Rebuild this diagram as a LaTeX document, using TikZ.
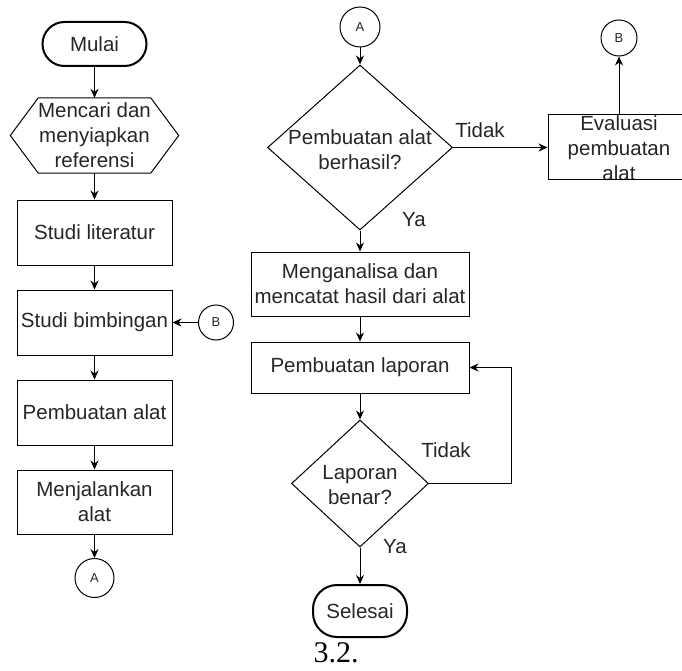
\documentclass[tikz,border=0pt]{standalone}
\usepackage{fontspec}
\setmainfont{Liberation Sans}
\newfontfamily\captionfont{Liberation Serif}
\usetikzlibrary{arrows.meta, calc, positioning, shapes.geometric}

\begin{document}
\begin{tikzpicture}[x=1pt, y=-1pt, >={Stealth[length=9pt, width=8pt]},
    every node/.style={font=\fontsize{20.5}{25}\selectfont, text=black!85},
    flow/.style={->, line width=1pt},
    process/.style={draw, line width=1pt, minimum width=155pt, minimum height=65pt, align=center, inner sep=1pt},
    terminal/.style={draw, line width=2pt, rounded corners=22pt, minimum height=44pt, inner sep=1pt},
    decision/.style={draw, diamond, line width=1pt, inner sep=0pt},
    connector/.style={draw, circle, line width=1pt, inner sep=0pt, font=\fontsize{13}{15}\selectfont},
    answer/.style={font=\fontsize{20.5}{25}\selectfont}
]
    \useasboundingbox (0,0) rectangle (682,671);

    % Left column
    \node[terminal, minimum width=104pt] (mulai) at (94.5,44) {Mulai};
    \node[minimum width=168pt, minimum height=75pt, align=center, inner sep=0pt] (ref) at (94.5,135.5)
        {Mencari dan\\menyiapkan\\referensi};
    \draw[line width=1pt] (ref.west) -- ($(ref.north west)+(28,0)$) -- ($(ref.north east)+(-28,0)$)
        -- (ref.east) -- ($(ref.south east)+(-28,0)$) -- ($(ref.south west)+(28,0)$) -- cycle;
    \node[process] (lit) at (94.5,232.5) {Studi literatur};
    \node[process] (bimb) at (94.5,322.5) {Studi bimbingan};
    \node[process] (buat) at (94.5,412.5) {Pembuatan alat};
    \node[process, minimum height=64pt] (jalan) at (94.5,502) {Menjalankan\\alat};
    \node[connector, minimum size=39pt] (conA) at (94.5,578) {A};
    \node[connector, minimum size=35pt] (conB) at (216,322.5) {B};

    \draw[flow] (mulai) -- (ref);
    \draw[flow] (ref) -- (lit);
    \draw[flow] (lit) -- (bimb);
    \draw[flow] (bimb) -- (buat);
    \draw[flow] (buat) -- (jalan);
    \draw[flow] (jalan) -- (conA);
    \draw[flow] (conB) -- (bimb);

    % Right column
    \node[connector, minimum size=40pt] (inA) at (360,27) {A};
    \node[decision, minimum width=185pt, minimum height=165pt] (cek) at (360,147.5) {};
    \node[align=center] at (360,150) {Pembuatan alat\\berhasil?};
    \node[align=center] at (619,148) {Evaluasi\\pembuatan\\alat};
    \node[draw, line width=1pt, minimum width=142pt, minimum height=65pt, inner sep=0pt] (eval) at (619,147.5) {};
    \node[connector, minimum size=36pt] (outB) at (619,38) {B};
    \node[process, minimum width=218pt, minimum height=64pt] (anal) at (360,284)
        {Menganalisa dan\\mencatat hasil dari alat};
    \node[process, minimum width=218pt, minimum height=51pt] (lap) at (360,367.5) {Pembuatan laporan};
    \node[decision, minimum width=137pt, minimum height=127pt] (benar) at (360,483.5) {};
    \node[align=center] at (360,485) {Laporan\\benar?};
    \node[terminal, minimum width=94pt, minimum height=52pt, rounded corners=24pt] (selesai) at (360,611) {Selesai};

    \draw[flow] (inA) -- (cek);
    \draw[flow] (cek) -- (eval);
    \draw[flow] (eval.north -| outB) -- (outB);
    \draw[flow] (cek) -- (anal);
    \draw[flow] (anal) -- (lap);
    \draw[flow] (lap) -- (benar);
    \draw[flow] (benar.east) -- ++(82.5,0) |- (lap.east);
    \draw[flow] (benar) -- (selesai);

    % Answers
    \node[answer] at (480,130) {Tidak};
    \node[answer] at (414,220) {Ya};
    \node[answer] at (446,450) {Tidak};
    \node[answer] at (395,547) {Ya};

    % Caption
    \node[anchor=base, inner sep=0pt, font=\captionfont\fontsize{30}{34}\selectfont, text=black] at (336,662) {3.2.};
\end{tikzpicture}
\end{document}
